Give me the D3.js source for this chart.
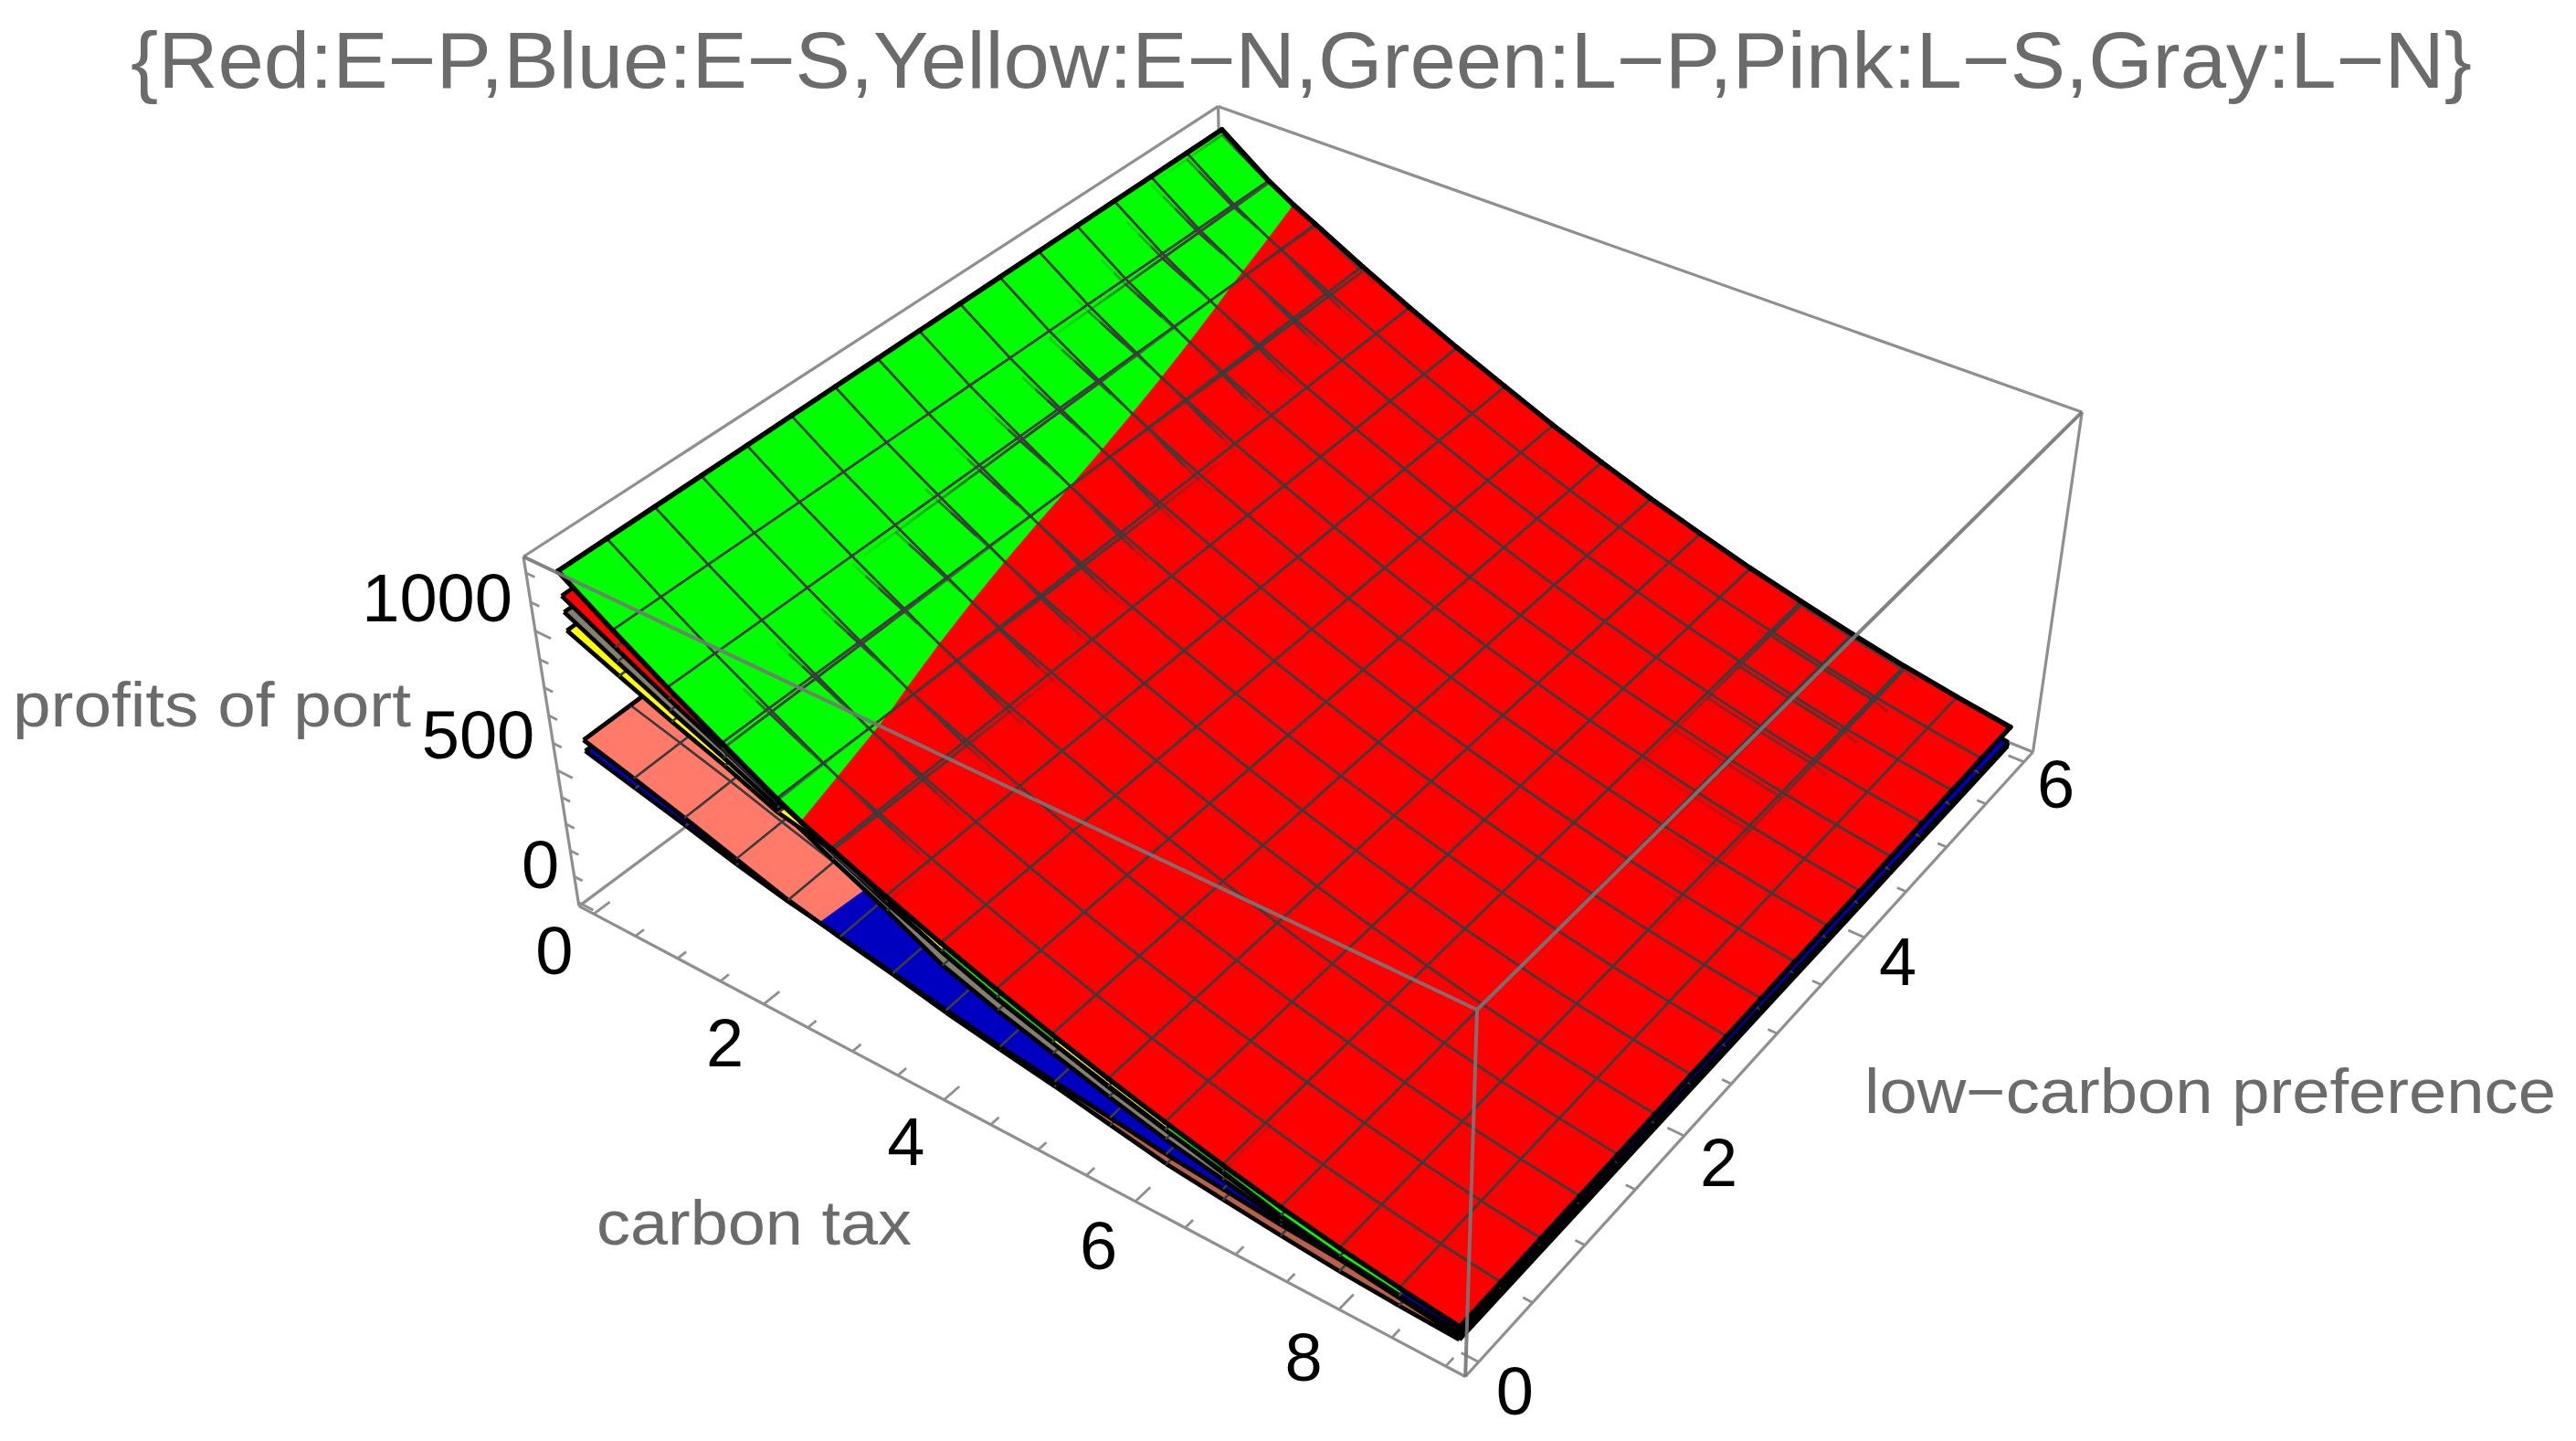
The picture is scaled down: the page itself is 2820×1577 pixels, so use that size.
<!DOCTYPE html><html><head><meta charset="utf-8"><script src="https://cdn.jsdelivr.net/npm/d3@7"></script>
<style>html,body{margin:0;background:#fff}svg{display:block}text{font-family:"Liberation Sans",Arial,sans-serif}</style></head><body><svg id="c" width="2820" height="1577"></svg>
<script>
// ---------- data: profits, along the two pref edges, at each mesh line of the tax axis
const titleText="{Red:E\u2212P,Blue:E\u2212S,Yellow:E\u2212N,Green:L\u2212P,Pink:L\u2212S,Gray:L\u2212N}";
const xLabel="carbon tax",yLabel="low\u2212carbon preference",zLabel="profits of port";
const taxMax=9,prefMax=6,meshCells=16;
const taxTicks=[0,2,4,6,8],prefTicks=[0,2,4,6],profitTicks=[0,500,1000];
const redAtPref0   =[1111,1015,920,832,738,660,583,511,443,380,322,269,220,175,137,105,78];
const redAtPref6   =[1195,1077,985,890,800,715,636,558,488,422,362,305,255,208,165,128,95];
const greenAtPref0 =[1196,1075,960,852,746,650,558,482,412,352,290,240,195,143,105,78,50];
const greenAtPref6 =[1215,1085,978,870,756,655,560,470,400,345,295,240,195,148,105,60,30];
const yellowAtPref0=[991,915,840,772,695,655,565,480,408,350,295,243,190,140,100,70,40];
const yellowAtPref6=[1135,1037,945,850,740,640,540,450,385,330,280,230,185,140,100,60,28];
const grayAtPref0  =[1055,965,880,800,715,620,530,430,365,310,255,205,165,125,95,68,42];
const grayAtPref6  =[1120,1025,935,840,730,630,530,440,375,320,270,225,241,194,151,60,30];
const pinkAtPref0  =[600,548,494,435,378,335,297,255,220,188,150,113,90,69,50,38,30];
const pinkAtPref6  =[700,660,610,560,510,470,430,390,350,310,270,230,180,135,95,60,20];
const blueAtPref0  =[560,512,465,415,372,339,302,265,232,205,178,150,130,110,95,75,58];
const blueAtPref6  =[660,625,580,535,495,460,425,385,350,315,280,240,190,145,105,70,35];

// ---------- view: plot box and where its 8 corners fall on the page (camera calibration)
const box={x:[-.18,9.18],y:[-.12,6.12],z:[-15,1255]};
const corners=[[0,0,1,572,610],[0,0,0,635,992],[1,0,0,1603,1508],[1,0,1,1618,1102],[1,1,1,2280,452],[1,1,0,2225,823],[0,1,1,1333,117],[0,1,0,1341,465]];
function solve(A,b){const n=b.length,M=A.map((r,i)=>[...r,b[i]]);for(let i=0;i<n;i++){let m=i;for(let k=i;k<n;k++)if(Math.abs(M[k][i])>Math.abs(M[m][i]))m=k;[M[i],M[m]]=[M[m],M[i]];for(let k=i+1;k<n;k++){const f=M[k][i]/M[i][i];for(let j=i;j<=n;j++)M[k][j]-=f*M[i][j];}}const x=Array(n).fill(0);for(let i=n-1;i>=0;i--){let s=M[i][n];for(let j=i+1;j<n;j++)s-=M[i][j]*x[j];x[i]=s/M[i][i];}return x;}
const Rows=[],rhs=[];corners.forEach(([u,v,w,sx,sy])=>{Rows.push([u,v,w,1,0,0,0,0,-sx*u,-sx*v,-sx*w]);rhs.push(sx);Rows.push([0,0,0,0,u,v,w,1,-sy*u,-sy*v,-sy*w]);rhs.push(sy);});
const ATA=d3.range(11).map(()=>Array(11).fill(0)),ATb=Array(11).fill(0);
Rows.forEach((r,k)=>{for(let i=0;i<11;i++){ATb[i]+=r[i]*rhs[k];for(let j=0;j<11;j++)ATA[i][j]+=r[i]*r[j];}});
const P=solve(ATA,ATb);
const U=d3.scaleLinear().domain(box.x).range([0,1]),V=d3.scaleLinear().domain(box.y).range([0,1]),W=d3.scaleLinear().domain(box.z).range([0,1]);
function proj(t,p,z){const u=U(t),v=V(p),w=W(z),d=P[8]*u+P[9]*v+P[10]*w+1;return[(P[0]*u+P[1]*v+P[2]*w+P[3])/d,(P[4]*u+P[5]*v+P[6]*w+P[7])/d];}

// ---------- surfaces
const taxGrid=d3.range(meshCells+1).map(i=>i*taxMax/meshCells),prefGrid=d3.range(meshCells+1).map(i=>i*prefMax/meshCells);
function surf(name,color,a,b,through){const sa=d3.scaleLinear().domain(taxGrid).range(a),sb=d3.scaleLinear().domain(taxGrid).range(b);return{name,color,through,z:(t,p)=>{const k=p/prefMax;return sa(t)*(1-k)+sb(t)*k;}};}
const surfaces=[surf("Pink","#ff7a68",pinkAtPref0,pinkAtPref6,false),surf("Blue","#0000c0",blueAtPref0,blueAtPref6,false),surf("Yellow","#ffff00",yellowAtPref0,yellowAtPref6,false),surf("Gray","#857f72",grayAtPref0,grayAtPref6,true),surf("Green","#00ff00",greenAtPref0,greenAtPref6,true),surf("Red","#ff0000",redAtPref0,redAtPref6,true)];

const svg=d3.select("#c");
const line=d3.line();
const MESH="#3c3c3c",BLACK="#000",EDGEW=5.5,MESHW=2.5;
const gBack=svg.append("g"),gLayers=svg.append("g"),gTopFill=svg.append("g"),gTopMesh=svg.append("g"),gThrough=svg.append("g"),gTopEdge=svg.append("g"),gFront=svg.append("g"),gText=svg.append("g");

// ---------- box
const c=(u,v,w)=>proj(box.x[u],box.y[v],box.z[w]);
const boxBack=[[[0,0,1],[0,1,1]],[[0,1,1],[1,1,1]],[[1,1,1],[1,1,0]],[[0,0,1],[0,0,0]],[[0,0,0],[1,0,0]],[[1,0,0],[1,1,0]],[[0,0,0],[0,1,0]],[[0,1,0],[1,1,0]],[[0,1,0],[0,1,1]]];
const boxFront=[[[0,0,1],[1,0,1]],[[1,0,1],[1,1,1]],[[1,0,1],[1,0,0]]];
gBack.selectAll("path.b").data(boxBack).join("path").attr("d",d=>line(d.map(q=>c(...q)))).attr("fill","none").attr("stroke","#8f8f8f").attr("stroke-width",3.2);
gFront.selectAll("path.f").data(boxFront).join("path").attr("d",d=>line(d.map(q=>c(...q)))).attr("fill","none").attr("stroke","#777").attr("stroke-width",4).attr("opacity",.92);

// ---------- ticks
const seg=(g,a,b,col,w)=>g.append("path").attr("d",line([a,b])).attr("stroke",col).attr("stroke-width",w).attr("fill","none");
d3.range(0,9.01,.5).forEach(t=>{const M=t%2===0;seg(gBack,proj(t,box.y[0],box.z[0]),proj(t,box.y[0]+(M?.13:.07),box.z[0]),"#8f8f8f",2.8);});
d3.range(0,6.01,.5).forEach(t=>{const M=t%2===0;seg(gBack,proj(box.x[1],t,box.z[0]),proj(box.x[1]-(M?.16:.09),t,box.z[0]),"#8f8f8f",2.8);});
d3.range(0,1201,100).forEach(t=>{const M=t%500===0;seg(gBack,proj(box.x[0],box.y[0],t),proj(box.x[0]+(M?.18:.1),box.y[0],t),"#8f8f8f",2.8);});

// ---------- painter by rank inside each cell
const cells=[];
d3.range(meshCells).forEach(i=>d3.range(meshCells).forEach(j=>{
  const tm=(taxGrid[i]+taxGrid[i+1])/2,pm=(prefGrid[j]+prefGrid[j+1])/2;
  surfaces.map(s=>({s,zc:s.z(tm,pm)})).sort((a,b)=>a.zc-b.zc).forEach((o,r)=>cells.push({s:o.s,i,j,r}));
}));
const P3=(s,q)=>proj(q[0],q[1],s.z(q[0],q[1]));
function clip(pts,f,closed){const out=[];const n=pts.length;
  if(closed){for(let k=0;k<n;k++){const a=pts[k],b=pts[(k+1)%n],fa=f(a),fb=f(b);if(fa>=0)out.push(a);if((fa>=0)!==(fb>=0)){const m=fa/(fa-fb);out.push([a[0]+m*(b[0]-a[0]),a[1]+m*(b[1]-a[1])]);}}return out;}
  const a=pts[0],b=pts[1],fa=f(a),fb=f(b);if(fa<0&&fb<0)return[];if(fa>=0&&fb>=0)return pts;const m=fa/(fa-fb),q=[a[0]+m*(b[0]-a[0]),a[1]+m*(b[1]-a[1])];return fa>=0?[a,q]:[q,b];}
function cellEdges(i,j){const t0=taxGrid[i],t1=taxGrid[i+1],p0=prefGrid[j],p1=prefGrid[j+1];
  return[{q:[[t0,p0],[t1,p0]],b:j===0},{q:[[t0,p1],[t1,p1]],b:j===meshCells-1},{q:[[t0,p0],[t0,p1]],b:i===0},{q:[[t1,p0],[t1,p1]],b:i===meshCells-1}];}
function pathOf(s,pts){return line(pts.map(q=>P3(s,q)));}
function subdiv(q,n){return d3.range(n).map(k=>[[q[0][0]+(q[1][0]-q[0][0])*k/n,q[0][1]+(q[1][1]-q[0][1])*k/n],[q[0][0]+(q[1][0]-q[0][0])*(k+1)/n,q[0][1]+(q[1][1]-q[0][1])*(k+1)/n]]);}
const colorOf=(s,i)=>(s.name==="Pink"&&i>=9)?"#b9604c":s.color;
d3.range(surfaces.length).forEach(r=>{
  const g=gLayers.append("g");
  cells.filter(d=>d.r===r).forEach(d=>{
    const{s,i,j}=d,poly=[[taxGrid[i],prefGrid[j]],[taxGrid[i+1],prefGrid[j]],[taxGrid[i+1],prefGrid[j+1]],[taxGrid[i],prefGrid[j+1]]];
    const col=colorOf(s,i);
    g.append("path").attr("d",pathOf(s,poly)+"Z").attr("fill",col).attr("stroke",col).attr("stroke-width",.7);
    cellEdges(i,j).forEach(e=>g.append("path").attr("d",pathOf(s,e.q)).attr("fill","none").attr("stroke",e.b?BLACK:MESH).attr("stroke-width",e.b?EDGEW-.8:MESHW));
  });
  // the two lowest surfaces cross each other: cut that crossing exactly as well
  if(r===1){
    const[a,b]=surfaces;
    [[a,b],[b,a]].forEach(([s,o])=>{
      const f=q=>s.z(q[0],q[1])-o.z(q[0],q[1]);
      cells.filter(d=>d.r<=1&&d.s===s).forEach(({i,j})=>{
        const poly=clip([[taxGrid[i],prefGrid[j]],[taxGrid[i+1],prefGrid[j]],[taxGrid[i+1],prefGrid[j+1]],[taxGrid[i],prefGrid[j+1]]],f,true);
        if(poly.length<3)return;
        const col=colorOf(s,i);
        g.append("path").attr("d",pathOf(s,poly)+"Z").attr("fill",col).attr("stroke",col).attr("stroke-width",.7);
        cellEdges(i,j).forEach(e=>{const q=clip(e.q,f,false);if(q.length===2)g.append("path").attr("d",pathOf(s,q)).attr("fill","none").attr("stroke",e.b?BLACK:MESH).attr("stroke-width",e.b?EDGEW-.8:MESHW);});
      });
    });
  }
});
// ---------- exact top skin, cut where one surface passes above another
surfaces.forEach(s=>{
  const others=surfaces.filter(o=>o!==s);
  const f=o=>q=>s.z(q[0],q[1])-o.z(q[0],q[1]);
  d3.range(meshCells).forEach(i=>d3.range(meshCells).forEach(j=>{
    let poly=[[taxGrid[i],prefGrid[j]],[taxGrid[i+1],prefGrid[j]],[taxGrid[i+1],prefGrid[j+1]],[taxGrid[i],prefGrid[j+1]]];
    others.forEach(o=>{if(poly.length)poly=clip(poly,f(o),true);});
    if(poly.length>2)gTopFill.append("path").attr("d",pathOf(s,poly)+"Z").attr("fill",s.color).attr("stroke",s.color).attr("stroke-width",.7);
    cellEdges(i,j).forEach(e=>{let q=e.q;others.forEach(o=>{if(q.length)q=clip(q,f(o),false);});
      if(q.length===2)(e.b?gTopEdge:gTopMesh).append("path").attr("d",pathOf(s,q)).attr("fill","none").attr("stroke",e.b?BLACK:MESH).attr("stroke-width",e.b?EDGEW:MESHW).attr("stroke-linecap","round");
    });
  }));
});
// ---------- mesh lines of a surface lying just under the skin show through it
const peak=14,spread=8;
surfaces.filter(s=>s.through).forEach(s=>{
  d3.range(meshCells).forEach(i=>d3.range(meshCells).forEach(j=>{
    cellEdges(i,j).forEach(e=>{subdiv(e.q,4).forEach(q=>{
      const mt=(q[0][0]+q[1][0])/2,mp=(q[0][1]+q[1][1])/2,top=d3.max(surfaces,o=>o.z(mt,mp)),dz=top-s.z(mt,mp);
      const a=.9*Math.exp(-(((dz-peak)/spread)**2));
      if(dz>0.01&&a>.05)gThrough.append("path").attr("d",pathOf(s,q)).attr("fill","none").attr("stroke",MESH).attr("stroke-width",MESHW+.3).attr("opacity",a);
    });});
  }));
});

// ---------- text
const label=(x,y,str,size,col,anchor,len)=>{const t=gText.append("text").attr("x",x).attr("y",y).attr("font-size",size).attr("fill",col).attr("text-anchor",anchor).text(str);if(len)t.attr("textLength",len).attr("lengthAdjust","spacingAndGlyphs");return t;};
label(143,96,titleText,88,"#6b6b6b","start",2563);
label(14,795,zLabel,68,"#6b6b6b","start",436);
label(653,1362,xLabel,68,"#6b6b6b","start",345);
label(2041,1218,yLabel,68,"#6b6b6b","start",757);
const DY=26;
taxTicks.forEach(t=>{const q=proj(t,box.y[0]-.42,box.z[0]);label(q[0]+14,q[1]+DY-3,t,74,"#000","middle");});
prefTicks.forEach(t=>{const q=proj(box.x[1]+.31,t,-45);label(q[0]+3,q[1]+DY+3,t,74,"#000","middle");});
profitTicks.forEach((t,k)=>{const q=proj(box.x[0],box.y[0],t);label(q[0]-25+[4,0,0][k],q[1]-36+DY+[-5,-3,0][k],t,74,"#000","end");});
</script></body></html>
